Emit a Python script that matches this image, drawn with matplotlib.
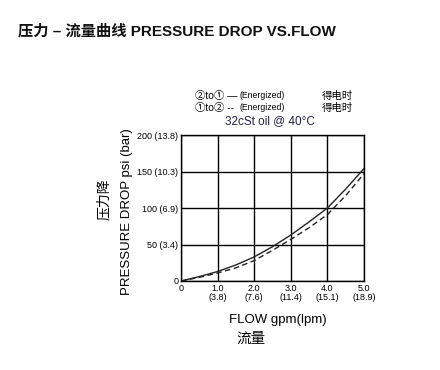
import matplotlib
matplotlib.use("Agg")
import matplotlib.pyplot as plt

plt.rcParams['font.family'] = ['Liberation Sans', 'Noto Sans CJK SC', 'DejaVu Sans']

flow = [0, 0.5, 1, 1.5, 2, 2.5, 3, 3.5, 4, 4.5, 5]
energized_2to1 = [0, 6, 13, 22, 33, 47, 63, 81, 100, 126, 154]
energized_1to2 = [0, 5, 11, 18, 28, 42, 57, 73, 91, 117, 147]

x_ticks = [0, 1, 2, 3, 4, 5]
x_labels = ["0", "1.0\n(3.8)", "2.0\n(7.6)", "3.0\n(11.4)", "4.0\n(15.1)", "5.0\n(18.9)"]
y_ticks = [0, 50, 100, 150, 200]
y_labels = ["0", "50 (3.4)", "100 (6.9)", "150 (10.3)", "200 (13.8)"]

fig = plt.figure(figsize=(4.4, 3.7), dpi=100)
ax = fig.add_axes([181/440, 1-281/370, 183/440, 146/370])

ax.plot(flow, energized_2to1, color='#222222', lw=1.0, ls='-')
ax.plot(flow, energized_1to2, color='#222222', lw=1.0, ls=(0, (4, 2.5)))

ax.set_xlim(0, 5)
ax.set_ylim(0, 200)
ax.set_xticks(x_ticks)
ax.set_yticks(y_ticks)
ax.set_xticklabels(x_labels, fontsize=6.5, linespacing=1.0)
ax.set_yticklabels(y_labels, fontsize=6.5)
ax.tick_params(length=0, pad=2)
ax.grid(True, color='black', lw=1.0)
for s in ax.spines.values():
    s.set_linewidth(1.0)
    s.set_color('black')

fig.text(18/440, 1-31/370, "压力 – 流量曲线 PRESSURE DROP VS.FLOW", fontsize=11,
         fontweight='bold', va='center', ha='left', color='#111111')

fig.text(195/440, 1-96/370, "②to① —", fontsize=7.5, va='center', ha='left')
fig.text(240/440, 1-96/370, "(Energized)", fontsize=6.2, va='center', ha='left')
fig.text(195/440, 1-108/370, "①to② --", fontsize=7.5, va='center', ha='left')
fig.text(240/440, 1-108/370, "(Energized)", fontsize=6.2, va='center', ha='left')
fig.text(322/440, 1-96/370, "得电时", fontsize=7.5, va='center', ha='left')
fig.text(322/440, 1-108/370, "得电时", fontsize=7.5, va='center', ha='left')
fig.text(270/440, 1-121/370, "32cSt oil @ 40°C", fontsize=8.5, va='center', ha='center',
         color='#222244')

fig.text(127/440, 1-212/370, "PRESSURE DROP psi (bar)", fontsize=9.5, rotation=90,
         va='center', ha='center')
fig.text(104/440, 1-199/370, "压力降", fontsize=10, rotation=90, va='center', ha='center')

fig.text(278/440, 1-320/370, "FLOW gpm(lpm)", fontsize=9.5, va='center', ha='center')
fig.text(251/440, 1-339/370, "流量", fontsize=10.5, va='center', ha='center')

fig.savefig("out.png", dpi=100, facecolor='white')
